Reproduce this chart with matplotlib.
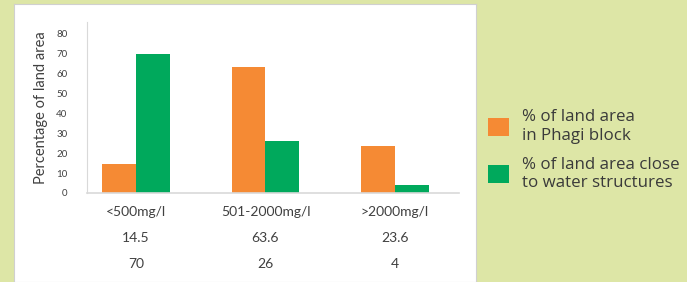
import numpy as np
import matplotlib.pyplot as plt
from matplotlib.transforms import blended_transform_factory

categories = ['<500mg/l', '501-2000mg/l', '>2000mg/l']
phagi_block = [14.5, 63.6, 23.6]
water_structures = [70, 26, 4]
series_labels = ['% of land area\nin Phagi block', '% of land area close\nto water structures']

orange = '#f58a34'
green = '#00a95c'
text_col = '#404040'
bg = '#dde6a6'

plt.rcParams['font.family'] = ['Lato', 'DejaVu Sans']

fig = plt.figure(figsize=(6.87, 2.82), dpi=100)
fig.patch.set_facecolor(bg)

# white panel behind the chart
panel = fig.add_axes([14 / 687, 0, (476 - 14) / 687, 1 - 4 / 282], zorder=0)
panel.set_facecolor('white')
panel.set_xticks([])
panel.set_yticks([])
for s in panel.spines.values():
    s.set_color('#d0d0d0')

ax = fig.add_axes([87 / 687, 1 - 193 / 282, (459 - 87) / 687, (193 - 22) / 282], zorder=1)
ax.set_facecolor('none')

x = np.arange(len(categories))
w = 0.26
b1 = ax.bar(x - w / 2, phagi_block, w, color=orange, label=series_labels[0])
b2 = ax.bar(x + w / 2, water_structures, w, color=green, label=series_labels[1])

ax.set_xlim(-0.378, 2.494)
ax.set_ylim(0, 86)
ax.set_yticks(range(0, 81, 10))
ax.tick_params(axis='y', length=0, labelsize=7, labelcolor=text_col, pad=14)
ax.set_xticks([])
for s in ['top', 'right']:
    ax.spines[s].set_visible(False)
ax.spines['left'].set_color('#d9d9d9')
ax.spines['bottom'].set_color('#d9d9d9')
ax.spines['bottom'].set_linewidth(1.2)
ax.set_ylabel('Percentage of land area', fontsize=10.5, color=text_col, labelpad=6)

# data table under the axis
trans = blended_transform_factory(ax.transData, fig.transFigure)
for i, cat in enumerate(categories):
    ax.text(x[i], 1 - 212 / 282, cat, transform=trans, ha='center', va='center',
            fontsize=10, color=text_col)
    ax.text(x[i], 1 - 238 / 282, f'{phagi_block[i]:g}', transform=trans, ha='center',
            va='center', fontsize=10, color=text_col)
    ax.text(x[i], 1 - 264 / 282, f'{water_structures[i]:g}', transform=trans, ha='center',
            va='center', fontsize=10, color=text_col)

fig.legend(handles=[b1, b2], loc='upper left', bbox_to_anchor=(480 / 687, 1 - 101 / 282),
           frameon=False, prop={'family': ['Open Sans', 'DejaVu Sans'], 'size': 12.2},
           labelcolor='#3a3a3a', handlelength=1.2, handleheight=1.25,
           handletextpad=0.75, labelspacing=0.75, borderpad=0)

fig.savefig('out.png', dpi=100, facecolor=bg)
